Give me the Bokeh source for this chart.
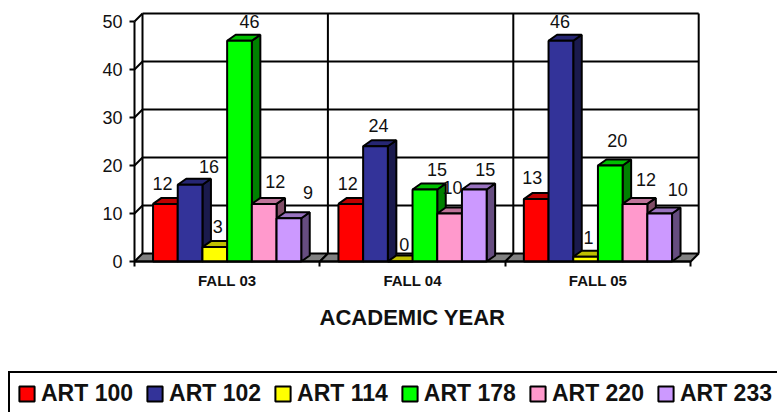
from bokeh.plotting import figure
from bokeh.models import ColumnDataSource, FixedTicker, Legend, LegendItem, Range1d
from bokeh.embed import file_html
from bokeh.resources import INLINE

categories = ["FALL 03", "FALL 04", "FALL 05"]
courses = ["ART 100", "ART 102", "ART 114", "ART 178", "ART 220", "ART 233"]
art100 = [12, 12, 13]
art102 = [16, 24, 46]
art114 = [3, 0, 1]
art178 = [46, 15, 20]
art220 = [12, 10, 12]
art233 = [9, 15, 10]
y_ticks = [0, 10, 20, 30, 40, 50]

series = [art100, art102, art114, art178, art220, art233]
fronts = ["#FF0000", "#333399", "#FFFF00", "#00FF00", "#FF99CC", "#CC99FF"]
tops = ["#BF0000", "#262673", "#BFBF00", "#00BF00", "#BF7399", "#9973BF"]
sides = ["#800000", "#1A1A4D", "#808000", "#008000", "#804D66", "#664D80"]

# label placement (pixels from bar-top centre), per series then category
label_dx = [[-3, -3, -4], [19, 3, -1], [3, 4, 3], [10, 12, 7], [11, 3, 11], [19, 11, 18]]
label_up = [[20, 20, 22], [18, 21, 19], [21, 17, 19], [19, 20, 25], [22, 26, 24], [26, 20, 24]]

PX_X, PX_Y = 185.4, 4.8           # pixels per category / per unit
WALL_DX, WALL_DY = 8 / PX_X, 8 / PX_Y
BAR_DX, BAR_DY = 8.5 / PX_X, 6 / PX_Y
BAR_W, BAR_START = 24.7 / PX_X, 0.1
FONT = "Liberation Sans"
FIG_W, FIG_H = 777, 412
ORIGIN_X, ORIGIN_Y = 134, 261
LW = 2
n_cat = len(categories)

p = figure(width=FIG_W, height=FIG_H, output_backend="svg", toolbar_location=None,
           x_range=Range1d(-ORIGIN_X / PX_X, (FIG_W - ORIGIN_X) / PX_X),
           y_range=Range1d(-(FIG_H - ORIGIN_Y) / PX_Y, ORIGIN_Y / PX_Y),
           min_border=0)
p.outline_line_color = None
p.grid.visible = False
p.background_fill_color = "white"

# back wall, side wall, floor
top = y_ticks[-1]
p.multi_line(xs=[[WALL_DX, n_cat + WALL_DX] for v in y_ticks[1:]],
             ys=[[v + WALL_DY, v + WALL_DY] for v in y_ticks[1:]], line_color="black", line_width=LW)
p.multi_line(xs=[[i + WALL_DX, i + WALL_DX] for i in range(n_cat + 1)],
             ys=[[WALL_DY, top + WALL_DY] for i in range(n_cat + 1)], line_color="black", line_width=LW)
p.multi_line(xs=[[0, WALL_DX] for v in y_ticks[1:]],
             ys=[[v, v + WALL_DY] for v in y_ticks[1:]], line_color="black", line_width=LW)
p.patches(xs=[[i, i + 1, i + 1 + WALL_DX, i + WALL_DX] for i in range(n_cat)],
          ys=[[0, 0, WALL_DY, WALL_DY] for i in range(n_cat)],
          fill_color="#808080", line_color="black", line_width=LW)

# bars
items = []
for s, vals in enumerate(series):
    x0 = [c + BAR_START + s * BAR_W for c in range(n_cat)]
    x1 = [x + BAR_W for x in x0]
    p.patches(xs=[[b, b + BAR_DX, b + BAR_DX, b] for b in x1],
              ys=[[0, BAR_DY, v + BAR_DY, v] for v in vals],
              fill_color=sides[s], line_color="black", line_width=LW)
    p.patches(xs=[[a, b, b + BAR_DX, a + BAR_DX] for a, b in zip(x0, x1)],
              ys=[[v, v, v + BAR_DY, v + BAR_DY] for v in vals],
              fill_color=tops[s], line_color="black", line_width=LW)
    r = p.quad(left=x0, right=x1, bottom=0, top=vals,
               fill_color=fronts[s], line_color="black", line_width=LW)
    items.append(LegendItem(label=courses[s], renderers=[r]))

# value labels
lx, ly, lt, ldx, ldy = [], [], [], [], []
for s, vals in enumerate(series):
    for c, v in enumerate(vals):
        lx.append(c + BAR_START + (s + 0.5) * BAR_W)
        ly.append(v)
        lt.append(str(v))
        ldx.append(label_dx[s][c])
        ldy.append(-label_up[s][c])
p.text(x="x", y="y", text="t", x_offset="dx", y_offset="dy",
       source=ColumnDataSource(dict(x=lx, y=ly, t=lt, dx=ldx, dy=ldy)),
       text_align="center", text_baseline="middle", text_font_size="18px",
       text_font={"value": FONT}, text_color="#111111")

# axes: pinned at the chart's origin so the frame can span the whole canvas
yax = p.yaxis[0]
yax.fixed_location = 0
yax.ticker = FixedTicker(ticks=y_ticks)
yax.bounds = (y_ticks[0], y_ticks[-1])
yax.major_tick_in, yax.major_tick_out = 0, 5
yax.minor_tick_line_color = None
yax.axis_line_width = yax.major_tick_line_width = LW
yax.axis_line_color = yax.major_tick_line_color = "black"
yax.major_label_text_font = FONT
yax.major_label_text_font_size = "18px"
yax.major_label_text_color = "#111111"
yax.major_label_standoff = 7

xax = p.xaxis[0]
xax.fixed_location = 0
xax.ticker = FixedTicker(ticks=[c + 0.5 for c in range(n_cat)], minor_ticks=list(range(n_cat + 1)))
xax.major_label_overrides = {c + 0.5: name for c, name in enumerate(categories)}
xax.bounds = (0, n_cat)
xax.major_tick_in, xax.major_tick_out = 0, 0
xax.minor_tick_in, xax.minor_tick_out = 0, 5
xax.axis_line_width = xax.minor_tick_line_width = LW
xax.axis_line_color = xax.minor_tick_line_color = "black"
xax.major_label_text_font = FONT
xax.major_label_text_font_style = "bold"
xax.major_label_text_font_size = "15px"
xax.major_label_text_color = "#111111"
xax.major_label_standoff = 5
xax.axis_label = "ACADEMIC YEAR"
xax.axis_label_text_font = FONT
xax.axis_label_text_font_style = "bold"
xax.axis_label_text_font_size = "22px"
xax.axis_label_text_color = "#111111"
xax.axis_label_standoff = 13

leg = Legend(items=items, orientation="horizontal", location=(8, -4),
             label_text_font=FONT, label_text_font_style="bold", label_text_font_size="23px",
             label_text_color="#111111", glyph_width=19, glyph_height=19, label_standoff=5,
             spacing=12, padding=7, margin=0, border_line_color="black", border_line_alpha=1,
             border_line_width=2, background_fill_alpha=0)
p.add_layout(leg, "center")

open("out.html", "w").write(file_html(p, INLINE))
